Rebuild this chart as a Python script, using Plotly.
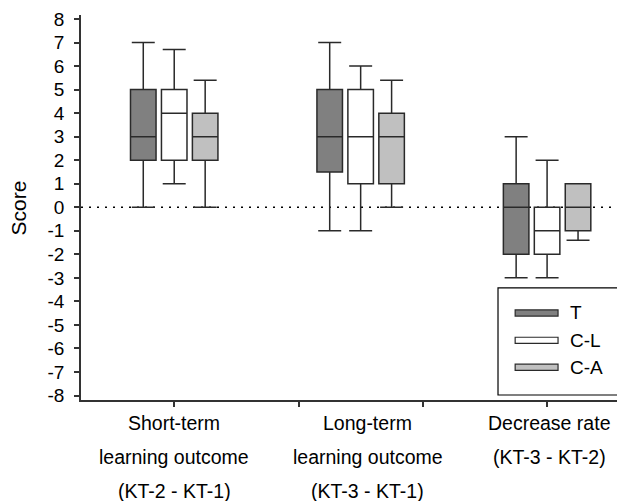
import plotly.graph_objects as go

# Outcome groups and series
groups = ["Short-term<br>learning outcome<br>(KT-2 - KT-1)",
          "Long-term<br>learning outcome<br>(KT-3 - KT-1)",
          "Decrease rate<br>(KT-3 - KT-2)"]
series = ["T", "C-L", "C-A"]
fills = ["#808080", "#ffffff", "#c0c0c0"]

# Box statistics per series, one value per group
q1 = {"T": [2, 1.5, -2], "C-L": [2, 1, -2], "C-A": [2, 1, -1]}
median = {"T": [3, 3, 0], "C-L": [4, 3, -1], "C-A": [3, 3, 0]}
q3 = {"T": [5, 5, 1], "C-L": [5, 5, 0], "C-A": [4, 4, 1]}
lower = {"T": [0, -1, -3], "C-L": [1, -1, -3], "C-A": [0, 0, -1.4]}
upper = {"T": [7, 7, 3], "C-L": [6.7, 6, 2], "C-A": [5.4, 5.4, 1]}

y_ticks = list(range(-8, 9))
y_tick_text = [str(v) for v in y_ticks]  # plain hyphen for negatives

FONT = "Liberation Sans, Arial, sans-serif"
offset = 0.166
box_w = 0.137

fig = go.Figure()
for k, name in enumerate(series):
    pos = [g + (k - 1) * offset for g in range(len(groups))]
    fig.add_trace(go.Box(
        x=pos, q1=q1[name], median=median[name], q3=q3[name],
        lowerfence=lower[name], upperfence=upper[name],
        name=name, width=box_w, whiskerwidth=0.9,
        fillcolor=fills[k], line=dict(color="#2a2a2a", width=1.5),
        boxpoints=False, hoverinfo="skip", showlegend=False,
    ))

# Dotted reference line at zero
fig.add_shape(type="line", xref="paper", yref="y", x0=0, x1=1.02, y0=0, y1=0,
              line=dict(color="#000000", width=1.5, dash="2px,6px"), layer="below")

# Group labels, one line per annotation for wide line spacing
shifts = [0, 7, 2]
for g, label in enumerate(groups):
    for i, line in enumerate(label.split("<br>")):
        fig.add_annotation(x=g, xref="x", y=0, yref="paper", text=line,
                           showarrow=False, xanchor="center", yanchor="middle",
                           xshift=shifts[g], yshift=-(23 + 34 * i),
                           font=dict(family=FONT, size=19.5, color="#000"))

# Legend box with flat swatches
fig.add_shape(type="rect", xref="paper", yref="paper", x0=0.778, x1=1.05,
              y0=0.013, y1=0.291, line=dict(color="#000", width=1.2),
              fillcolor="rgba(255,255,255,0)")
leg_y = [0.226, 0.155, 0.085]
for k, name in enumerate(series):
    fig.add_shape(type="rect", xref="paper", yref="paper", x0=0.810, x1=0.890,
                  y0=leg_y[k] - 0.008, y1=leg_y[k] + 0.008,
                  line=dict(color="#2a2a2a", width=1.2), fillcolor=fills[k])
    fig.add_annotation(x=0.909, xref="paper", y=leg_y[k], yref="paper", text=name,
                       showarrow=False, xanchor="left", yanchor="middle",
                       font=dict(family=FONT, size=19, color="#000"))

# Y axis title
fig.add_annotation(x=-0.1157, xref="paper", y=0.5, yref="paper", text="Score",
                   textangle=-90, showarrow=False, xanchor="center", yanchor="middle",
                   font=dict(family=FONT, size=21, color="#000"))

fig.update_layout(
    width=617, height=501,
    margin=dict(l=81, r=0, t=15, b=101),
    paper_bgcolor="white", plot_bgcolor="white",
    boxmode="overlay",
    xaxis=dict(range=[-0.5, 2.375], tickvals=[0, 2 / 3, 4 / 3, 2],
               ticktext=["", "", "", ""], ticks="outside", ticklen=5,
               tickcolor="#333", tickwidth=1.5,
               showline=True, linecolor="#333", linewidth=1.5,
               showgrid=False, zeroline=False, fixedrange=True),
    yaxis=dict(range=[-8.19, 8.17], tickvals=y_ticks, ticktext=y_tick_text,
               ticks="outside", ticklen=5, tickcolor="#333", tickwidth=1.5,
               ticklabelstandoff=6,
               showline=True, linecolor="#333", linewidth=1.5,
               showgrid=False, zeroline=False, fixedrange=True,
               tickfont=dict(family=FONT, size=19, color="#000")),
    font=dict(family=FONT, size=19, color="#000"),
)

fig.write_html("out.html")
